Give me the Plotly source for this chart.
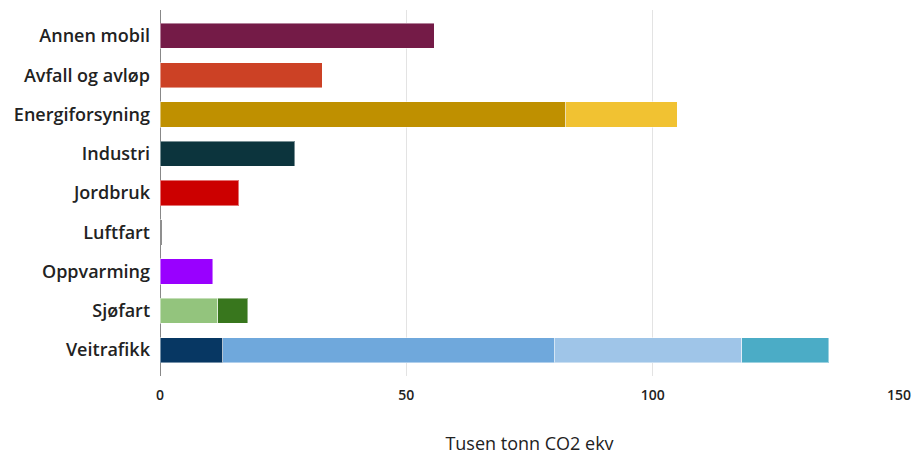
import plotly.graph_objects as go

categories = ["Annen mobil", "Avfall og avløp", "Energiforsyning", "Industri", "Jordbruk",
              "Luftfart", "Oppvarming", "Sjøfart", "Veitrafikk"]
seg1 = [55.7, 32.9, 82.4, 27.4, 16.0, 0.4, 10.7, 11.7, 12.7]
seg2 = [None, None, 22.6, None, None, None, None, 6.1, 67.4]
seg3 = [None, None, None, None, None, None, None, None, 38.0]
seg4 = [None, None, None, None, None, None, None, None, 17.6]
x_ticks = [0, 50, 100, 150]

colors1 = ["#741b47", "#cc4125", "#bf9000", "#0c343d", "#cc0000", "#333333", "#9900ff", "#93c47d", "#073763"]
colors2 = ["#ffffff"] * 2 + ["#f1c232"] + ["#ffffff"] * 4 + ["#38761d", "#6fa8dc"]
colors3 = ["#ffffff"] * 8 + ["#9fc5e8"]
colors4 = ["#ffffff"] * 8 + ["#4bacc6"]

fig = go.Figure()
for vals, cols in [(seg1, colors1), (seg2, colors2), (seg3, colors3), (seg4, colors4)]:
    fig.add_trace(go.Bar(
        y=categories, x=vals, orientation="h",
        marker=dict(color=cols, line=dict(color="rgba(255,255,255,0.45)", width=1)),
        showlegend=False, hoverinfo="x+y",
    ))

fig.update_layout(
    barmode="stack",
    bargap=0.36,
    width=915, height=455,
    margin=dict(l=160, r=16, t=10, b=79),
    plot_bgcolor="white", paper_bgcolor="white",
    font=dict(family="Open Sans, sans-serif", color="#222222"),
    xaxis=dict(
        range=[0, 150], tickvals=x_ticks, ticktext=[str(v) for v in x_ticks],
        showgrid=True, gridcolor="#e3e3e3", gridwidth=1,
        zeroline=True, zerolinecolor="#888888", zerolinewidth=1,
        tickfont=dict(size=14, weight=600, color="#222222"),
        ticks="", ticklabelstandoff=9,
        title=dict(text="Tusen tonn CO2 ekv", font=dict(size=18, color="#222222"), standoff=36),
        automargin=False,
        fixedrange=True,
    ),
    yaxis=dict(
        categoryorder="array", categoryarray=categories,
        range=[8.66, -0.66],
        showgrid=False, zeroline=False,
        tickfont=dict(size=18, weight=600, color="#222222"),
        ticks="", ticklabelstandoff=9,
        automargin=False,
        fixedrange=True,
    ),
)

fig.write_html(
    "out.html",
    config={"displayModeBar": False},
    post_script="document.body.style.margin='0';document.documentElement.style.overflow='hidden';document.body.style.overflow='hidden';",
)
